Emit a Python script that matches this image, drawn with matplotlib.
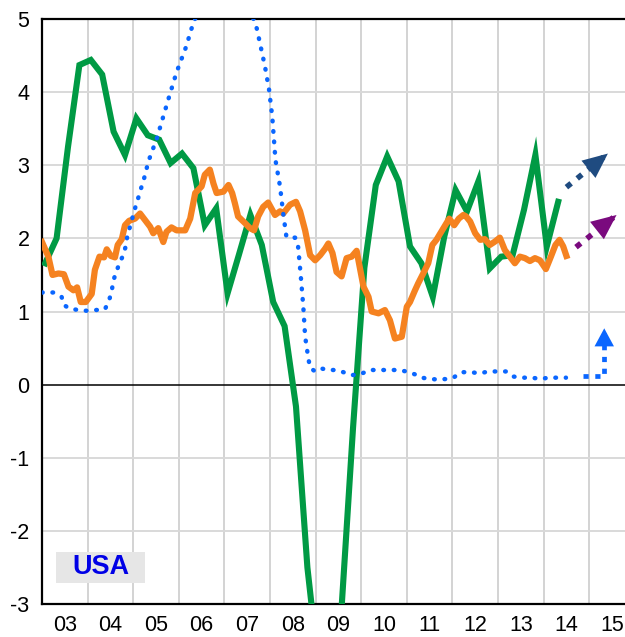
import matplotlib
matplotlib.use("Agg")
import matplotlib.pyplot as plt
import matplotlib.patches as mpatches
import numpy as np

plt.rcParams['font.family'] = ['Liberation Sans', 'DejaVu Sans']
plt.rcParams['axes.unicode_minus'] = False

# --- dados ---
# PIB (verde), trimestral, a partir de 2003.07
gdp_start = 2003.07
gdp_vals = [1.66, 2.0, 3.25, 4.37, 4.44, 4.24, 3.46, 3.14, 3.64, 3.41, 3.35, 3.03,
            3.16, 2.96, 2.18, 2.41, 1.25, 1.78, 2.32, 1.91, 1.13, 0.8, -0.3, -2.5,
            -3.9, -4.1, -3.05, -0.6, 1.6, 2.73, 3.12, 2.78, 1.89, 1.66, 1.20, 2.02,
            2.66, 2.37, 2.78, 1.59, 1.75, 1.77, 2.39, 3.14, 1.89, 2.50]

# inflação (laranja)
infl_t = [2003.0, 2003.14, 2003.23, 2003.36, 2003.48, 2003.58, 2003.69, 2003.77, 2003.85, 2003.96,
          2004.09, 2004.16, 2004.26, 2004.36, 2004.42, 2004.51, 2004.60, 2004.66, 2004.75, 2004.82,
          2004.91, 2005.04, 2005.15, 2005.26, 2005.37, 2005.44, 2005.55, 2005.66, 2005.73, 2005.84,
          2005.95, 2006.14, 2006.25, 2006.36, 2006.50, 2006.57, 2006.68, 2006.76, 2006.83, 2006.98,
          2007.09, 2007.17, 2007.23, 2007.30, 2007.45, 2007.56, 2007.65, 2007.74, 2007.85, 2007.96,
          2008.11, 2008.22, 2008.29, 2008.44, 2008.57, 2008.66, 2008.77, 2008.88, 2008.99, 2009.10,
          2009.21, 2009.28, 2009.37, 2009.46, 2009.57, 2009.68, 2009.79, 2009.90, 2009.97, 2010.05,
          2010.16, 2010.23, 2010.38, 2010.52, 2010.63, 2010.74, 2010.89, 2011.00, 2011.07, 2011.18,
          2011.25, 2011.36, 2011.47, 2011.56, 2011.65, 2011.78, 2011.93, 2012.04, 2012.14, 2012.24,
          2012.30, 2012.39, 2012.50, 2012.61, 2012.71, 2012.82, 2012.93, 2013.04, 2013.15, 2013.26,
          2013.37, 2013.48, 2013.59, 2013.70, 2013.81, 2013.92, 2014.05, 2014.16, 2014.26, 2014.35,
          2014.43, 2014.50]
infl_v = [1.95, 1.75, 1.50, 1.52, 1.51, 1.34, 1.29, 1.33, 1.13, 1.13,
          1.24, 1.57, 1.75, 1.74, 1.85, 1.76, 1.74, 1.91, 1.99, 2.18,
          2.24, 2.27, 2.34, 2.25, 2.16, 2.07, 2.14, 1.95, 2.09, 2.15,
          2.11, 2.11, 2.27, 2.62, 2.71, 2.87, 2.94, 2.75, 2.62, 2.64,
          2.73, 2.62, 2.48, 2.30, 2.21, 2.14, 2.11, 2.30, 2.43, 2.49,
          2.32, 2.37, 2.34, 2.46, 2.50, 2.37, 2.11, 1.77, 1.70, 1.77,
          1.86, 1.93, 1.80, 1.54, 1.48, 1.73, 1.75, 1.83, 1.60, 1.34,
          1.20, 1.00, 0.975, 1.02, 0.88, 0.63, 0.655, 1.065, 1.13, 1.29,
          1.385, 1.52, 1.66, 1.91, 1.98, 2.115, 2.27, 2.18, 2.27, 2.32,
          2.30, 2.23, 2.07, 1.98, 1.99, 1.91, 1.955, 2.01, 1.84, 1.75,
          1.66, 1.75, 1.73, 1.69, 1.73, 1.70, 1.58, 1.75, 1.91, 1.98,
          1.89, 1.76]

# juros (azul pontilhado)
rate_t = [2003.0, 2003.25, 2003.43, 2003.48, 2003.60, 2003.80, 2003.98, 2004.18, 2004.38, 2004.47,
          2004.53, 2004.56, 2004.62, 2004.70, 2004.78, 2004.84, 2004.87, 2004.93, 2005.04, 2005.10,
          2005.16, 2005.22, 2005.28, 2005.32, 2005.52, 2005.76, 2005.95, 2006.16, 2006.28, 2006.50,
          2007.50, 2007.71, 2007.89, 2007.98, 2008.05, 2008.12, 2008.22, 2008.29, 2008.36, 2008.55,
          2008.61, 2008.67, 2008.73, 2008.77, 2008.84, 2008.88, 2008.99, 2009.13, 2009.28, 2009.43,
          2009.61, 2009.79, 2009.97, 2010.19, 2010.38, 2010.59, 2010.78, 2011.00, 2011.18, 2011.33,
          2011.51, 2011.69, 2011.87, 2012.02, 2012.20, 2012.39, 2012.61, 2012.79, 2013.01, 2013.19,
          2013.34, 2013.55, 2013.74, 2013.94, 2014.10, 2014.29, 2014.49]
rate_v = [1.26, 1.26, 1.20, 1.09, 1.04, 1.02, 1.01, 1.02, 1.03, 1.15,
          1.28, 1.41, 1.53, 1.66, 1.77, 1.90, 2.03, 2.16, 2.41, 2.53,
          2.66, 2.78, 2.91, 3.03, 3.37, 3.88, 4.27, 4.62, 4.87, 5.25,
          5.25, 4.87, 4.35, 4.03, 3.66, 3.07, 2.71, 2.34, 2.02, 2.01,
          1.93, 1.52, 1.07, 0.66, 0.36, 0.23, 0.18, 0.22, 0.20, 0.20,
          0.17, 0.13, 0.14, 0.20, 0.20, 0.20, 0.20, 0.18, 0.14, 0.095,
          0.077, 0.07, 0.077, 0.095, 0.17, 0.17, 0.155, 0.18, 0.18, 0.18,
          0.11, 0.095, 0.095, 0.077, 0.095, 0.095, 0.095]

# projeções (setas)
rate_fc_t = [2014.87, 2015.33, 2015.33]
rate_fc_v = [0.12, 0.12, 0.77]
gdp_fc_t = [2014.50, 2015.41]
gdp_fc_v = [2.70, 3.16]
infl_fc_t = [2014.71, 2015.60]
infl_fc_v = [1.88, 2.32]

year_labels = ['03', '04', '05', '06', '07', '08', '09', '10', '11', '12', '13', '14', '15']

GREEN = '#009a44'
ORANGE = '#f58220'
BLUE = '#0a66ff'
NAVY = '#1f4b80'
PURPLE = '#7a0a7e'

fig = plt.figure(figsize=(6.25, 6.37), dpi=100)
ax = fig.add_axes([42 / 625, 33 / 637, 583 / 625, 585 / 637])
ax.set_xlim(2003, 2003 + 583 / 45.6)
ax.set_ylim(-3, 5)

# grade
for yr in range(2004, 2016):
    ax.axvline(yr, color='#c8c8c8', lw=1.1, zorder=0)
for yv in range(-3, 6):
    if yv != 0:
        ax.axhline(yv, color='#d9d9d9', lw=1.4, zorder=0)
ax.axhline(0, color='black', lw=1.1, zorder=1)

for s in ['left', 'top', 'bottom']:
    ax.spines[s].set_color('black')
    ax.spines[s].set_linewidth(1.6)
ax.spines['right'].set_visible(False)

gdp_t = gdp_start + 0.25 * np.arange(len(gdp_vals))
ax.plot(gdp_t, gdp_vals, color=GREEN, lw=4.4, solid_joinstyle='miter', zorder=3)
ax.plot(infl_t, infl_v, color=ORANGE, lw=4.5, solid_joinstyle='round', zorder=4)
ax.plot(rate_t, rate_v, color=BLUE, lw=3.2, ls=(0, (0.15, 2.2)),
        dash_capstyle='round', zorder=5)


def seta(t, v, cor, hl, hw, lw=4.0):
    ax.plot(t, v, color=cor, lw=lw, ls=(0, (1.1, 1.4)), zorder=5)
    ax.annotate('', xy=(t[-1], v[-1]), xytext=(t[-2], v[-2]),
                arrowprops=dict(arrowstyle=f'-|>,head_length={hl},head_width={hw}',
                                color=cor, lw=0, shrinkA=0, shrinkB=0,
                                mutation_scale=10), zorder=6)


seta(rate_fc_t, rate_fc_v, BLUE, 1.3, 0.7, lw=3.4)
seta(gdp_fc_t, gdp_fc_v, NAVY, 1.8, 0.8)
seta(infl_fc_t, infl_fc_v, PURPLE, 1.8, 0.8)

# eixos
ax.set_yticks(range(-3, 6))
ax.set_yticklabels([str(v) for v in range(-3, 6)])
ax.set_xticks(range(2004, 2016))
ax.set_xticklabels([])
ax.set_xticks(np.arange(2003.5, 2016, 1.0), minor=True)
ax.set_xticklabels(year_labels, minor=True)
ax.tick_params(axis='both', which='both', length=0, labelsize=15.5)
ax.tick_params(axis='y', pad=9)
ax.tick_params(axis='x', which='minor', pad=8)

# rótulo do país
ax.add_patch(mpatches.Rectangle((14 / 583, 20.7 / 585), 89 / 583, 31.6 / 585,
                                transform=ax.transAxes, facecolor='#e6e6e6',
                                edgecolor='none', zorder=2))
ax.text(58.5 / 583, 36.5 / 585, 'USA', transform=ax.transAxes, ha='center', va='center',
        color='#0000e6', fontsize=19.5, fontweight='bold', zorder=3)

fig.savefig('out.png', dpi=100)
